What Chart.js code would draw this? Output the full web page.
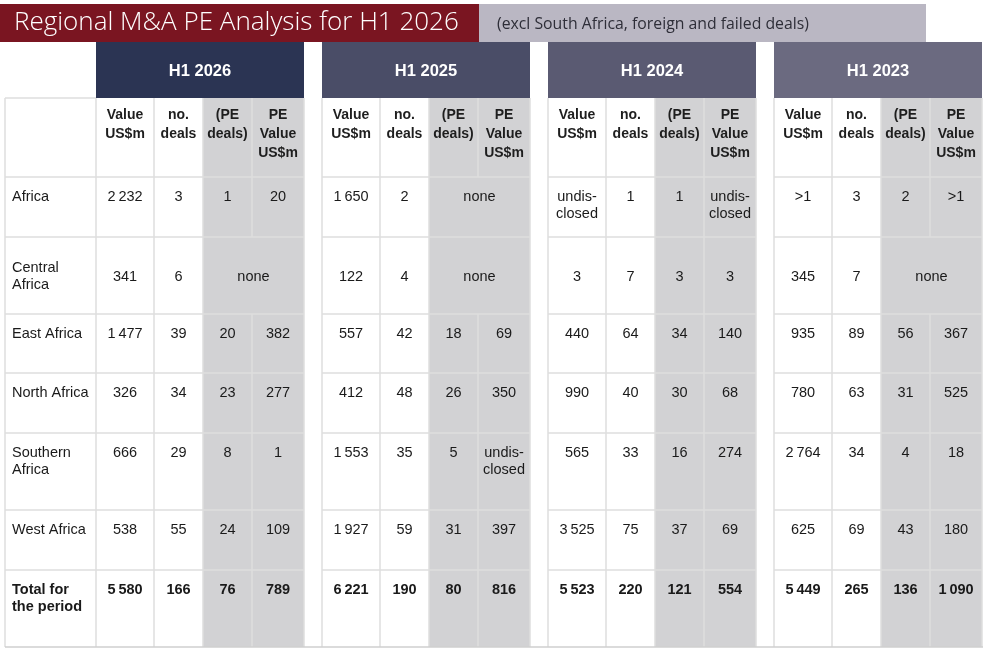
<!DOCTYPE html>
<html>
<head>
<meta charset="utf-8">
<title>Regional M&amp;A PE Analysis for H1 2026</title>
<script src="https://cdn.jsdelivr.net/npm/chart.js@4.4.1/dist/chart.umd.min.js"></script>
<style>
    html, body { margin: 0; padding: 0; background: #ffffff; }
    #wrap { width: 992px; height: 666px; position: relative; }
</style>
</head>
<body>
<div id="wrap"><canvas id="dealsTable"></canvas></div>
<script>
// ---- data ----
const titleText = 'Regional M&A PE Analysis for H1 2026';
const subtitleText = '(excl South Africa, foreign and failed deals)';
const regions = ['Africa', ['Central', 'Africa'], 'East Africa', 'North Africa', ['Southern', 'Africa'], 'West Africa', ['Total for', 'the period']];
const periods = ['H1 2026', 'H1 2025', 'H1 2024', 'H1 2023'];
const columnHeads = [['Value', 'US$m'], ['no.', 'deals'], ['(PE', 'deals)'], ['PE', 'Value', 'US$m']];

// null in both PE columns = "none"
const value2026 = [2232, 341, 1477, 326, 666, 538, 5580];
const deals2026 = [3, 6, 39, 34, 29, 55, 166];
const peDeals2026 = [1, null, 20, 23, 8, 24, 76];
const peValue2026 = [20, null, 382, 277, 1, 109, 789];

const value2025 = [1650, 122, 557, 412, 1553, 1927, 6221];
const deals2025 = [2, 4, 42, 48, 35, 59, 190];
const peDeals2025 = [null, null, 18, 26, 5, 31, 80];
const peValue2025 = [null, null, 69, 350, 'undisclosed', 397, 816];

const value2024 = ['undisclosed', 3, 440, 990, 565, 3525, 5523];
const deals2024 = [1, 7, 64, 40, 33, 75, 220];
const peDeals2024 = [1, 3, 34, 30, 16, 37, 121];
const peValue2024 = ['undisclosed', 3, 140, 68, 274, 69, 554];

const value2023 = ['>1', 345, 935, 780, 2764, 625, 5449];
const deals2023 = [3, 7, 89, 63, 34, 69, 265];
const peDeals2023 = [2, null, 56, 31, 4, 43, 136];
const peValue2023 = ['>1', null, 367, 525, 18, 180, 1090];

const tableColumns = [
    [value2026, deals2026, peDeals2026, peValue2026],
    [value2025, deals2025, peDeals2025, peValue2025],
    [value2024, deals2024, peDeals2024, peValue2024],
    [value2023, deals2023, peDeals2023, peValue2023]
];

// ---- layout ----
const groupLeft = [96, 322, 548, 774];
const colWidth = [58, 49, 49, 52];
const rowEdges = [98, 177, 237, 314, 373, 433, 510, 570, 647];
const centredRows = [1];
const totalRow = 6;
const headerColors = ['#2b3453', '#4a4d67', '#5a5a72', '#6b6a80'];
const shade = '#d2d2d4';
const lineColor = '#dedede';
const font = '"Liberation Sans", Arial, sans-serif';

function fmt(v) {
    if (v === 'undisclosed') return ['undis-', 'closed'];
    if (typeof v === 'number') return [String(v).replace(/\B(?=(\d{3})+(?!\d))/g, '\u2009')];
    return [String(v)];
}

const tablePlugin = {
    id: 'tablePainter',
    afterDatasetsDraw(chart) {
        const c = chart.ctx;
        const X = v => chart.scales.x.getPixelForValue(v);
        const Y = v => chart.scales.y.getPixelForValue(v);
        const rect = (x0, y0, x1, y1, col) => {
            c.fillStyle = col;
            c.fillRect(X(x0), Y(y0), X(x1) - X(x0), Y(y1) - Y(y0));
        };
        const line = (x0, y0, x1, y1, col, w) => {
            c.strokeStyle = col;
            c.lineWidth = w || 1.5;
            c.beginPath();
            c.moveTo(X(x0), Y(y0));
            c.lineTo(X(x1), Y(y1));
            c.stroke();
        };
        const lines = (arr, x, y, step, align, f, col) => {
            c.font = f;
            c.fillStyle = col;
            c.textAlign = align;
            c.textBaseline = 'middle';
            arr.forEach((t, i) => c.fillText(t, X(x), Y(y + i * step)));
        };
        const top = rowEdges[0];
        const bottom = rowEdges[rowEdges.length - 1];

        c.save();
        // title bars
        rect(0, 4, 479, 42, '#7a1521');
        rect(479, 4, 926, 42, '#bab7c3');
        lines([titleText], 14, 23, 0, 'left', '300 26px "Open Sans", sans-serif', '#ffffff');
        lines([subtitleText], 497, 24, 0, 'left', '15.8px "Open Sans", sans-serif', '#2e2e38');

        // label column borders
        line(5, top, 5, bottom, lineColor);
        line(5, top, groupLeft[0], top, lineColor);

        groupLeft.forEach((gx, g) => {
            const edges = [gx];
            colWidth.forEach(w => edges.push(edges[edges.length - 1] + w));
            const right = edges[4];
            const data = tableColumns[g];

            // period header block
            rect(gx, 42, right, top, headerColors[g]);
            lines([periods[g]], (gx + right) / 2, 71, 0, 'center', 'bold 16.5px ' + font, '#ffffff');

            // shaded PE columns
            rect(edges[2], top, right, bottom, shade);

            // horizontal lines
            rowEdges.slice(1, -1).forEach(ry => line(gx, ry, right, ry, lineColor));

            // vertical lines
            line(gx, top, gx, bottom, lineColor);
            line(right, top, right, bottom, lineColor);
            line(edges[1], top, edges[1], bottom, lineColor);
            line(edges[2], top, edges[2], bottom, lineColor);
            line(edges[3], rowEdges[0], edges[3], rowEdges[1], lineColor);

            // column heads
            columnHeads.forEach((h, k) => {
                lines(h, (edges[k] + edges[k + 1]) / 2, top + 17, 19, 'center', 'bold 14px ' + font, '#1e1e1e');
            });

            // cells
            regions.forEach((r, i) => {
                const y0 = rowEdges[i + 1], y1 = rowEdges[i + 2];
                const f = (i === totalRow ? 'bold ' : '') + '14.5px ' + font;
                const place = (arr, cx) => {
                    let y = y0 + 20;
                    if (centredRows.includes(i)) y = (y0 + y1) / 2 + 1 - (arr.length - 1) * 8.5;
                    lines(arr, cx, y, 17, 'center', f, '#1a1a1a');
                };
                const none = data[2][i] === null && data[3][i] === null;
                if (!none) line(edges[3], y0, edges[3], y1, lineColor);
                for (let k = 0; k < 2; k++) place(fmt(data[k][i]), (edges[k] + edges[k + 1]) / 2);
                if (none) {
                    place(['none'], (edges[2] + edges[4]) / 2);
                } else {
                    for (let k = 2; k < 4; k++) place(fmt(data[k][i]), (edges[k] + edges[k + 1]) / 2);
                }
            });
        });

        // row labels and label column lines
        regions.forEach((r, i) => {
            const y0 = rowEdges[i + 1], y1 = rowEdges[i + 2];
            line(5, y0, groupLeft[0], y0, lineColor);
            const arr = Array.isArray(r) ? r : [r];
            let y = y0 + 20;
            if (centredRows.includes(i)) y = (y0 + y1) / 2 + 1 - (arr.length - 1) * 8.5;
            const f = (i === totalRow ? 'bold ' : '') + '14.5px ' + font;
            lines(arr, 12, y, 17, 'left', f, '#1a1a1a');
        });

        // bottom rule
        line(5, bottom, groupLeft[3] + 209, bottom, '#cfcfcf');
        c.restore();
    }
};

const ctx = document.getElementById('dealsTable').getContext('2d');
const dealsTable = new Chart(ctx, {
    type: 'scatter',
    data: { datasets: [] },
    options: {
        responsive: true,
        maintainAspectRatio: false,
        animation: false,
        devicePixelRatio: 1,
        layout: { padding: 0 },
        scales: {
            x: { type: 'linear', min: 0, max: 992, display: false },
            y: { type: 'linear', min: 0, max: 666, reverse: true, display: false }
        },
        plugins: {
            legend: { display: false },
            tooltip: { enabled: false }
        }
    },
    plugins: [tablePlugin]
});
</script>
</body>
</html>
